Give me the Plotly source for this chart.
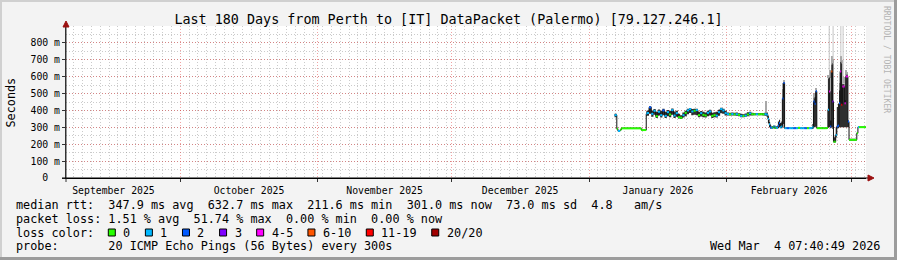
import plotly.graph_objects as go

# ---------------- data ----------------
times = [
    "2026-01-06 18:00", "2026-01-07 06:00", "2026-01-07 12:00", "2026-01-08 00:00",
    "2026-01-08 06:00", "2026-01-12 18:00", "2026-01-13 21:00",
    "2026-01-14 00:00", "2026-01-14 12:00", "2026-01-15 00:00", "2026-01-15 12:00",
    "2026-01-16 00:00", "2026-01-16 12:00", "2026-01-17 00:00", "2026-01-17 12:00",
    "2026-01-18 00:00", "2026-01-18 12:00", "2026-01-19 00:00", "2026-01-19 12:00",
    "2026-01-20 00:00", "2026-01-20 12:00", "2026-01-21 00:00", "2026-01-21 12:00",
    "2026-01-22 00:00", "2026-01-22 12:00", "2026-01-23 00:00", "2026-01-23 12:00",
    "2026-01-24 00:00", "2026-01-24 12:00", "2026-01-25 00:00", "2026-01-25 12:00",
    "2026-01-26 00:00", "2026-01-26 12:00", "2026-01-27 00:00", "2026-01-27 12:00",
    "2026-01-28 00:00", "2026-01-28 12:00", "2026-01-29 00:00", "2026-01-29 12:00",
    "2026-01-30 00:00", "2026-01-30 12:00", "2026-01-31 00:00", "2026-01-31 12:00",
    "2026-02-01 00:00", "2026-02-01 12:00", "2026-02-02 00:00", "2026-02-02 12:00",
    "2026-02-03 00:00", "2026-02-03 12:00", "2026-02-04 00:00", "2026-02-04 12:00",
    "2026-02-05 00:00", "2026-02-05 12:00", "2026-02-06 00:00", "2026-02-06 12:00",
    "2026-02-07 00:00", "2026-02-07 12:00", "2026-02-08 00:00", "2026-02-08 12:00",
    "2026-02-09 00:00", "2026-02-09 12:00",
    "2026-02-10 00:00", "2026-02-10 06:00", "2026-02-10 12:00", "2026-02-10 18:00",
    "2026-02-11 00:00", "2026-02-11 06:00", "2026-02-11 12:00", "2026-02-11 18:00",
    "2026-02-12 00:00", "2026-02-12 06:00", "2026-02-12 12:00", "2026-02-12 18:00",
    "2026-02-13 00:00", "2026-02-13 06:00", "2026-02-13 12:00", "2026-02-13 18:00",
    "2026-02-14 00:00", "2026-02-14 12:00", "2026-02-15 00:00", "2026-02-15 12:00",
    "2026-02-16 00:00", "2026-02-16 12:00", "2026-02-17 00:00", "2026-02-17 12:00",
    "2026-02-18 00:00", "2026-02-18 12:00", "2026-02-19 00:00", "2026-02-19 12:00",
    "2026-02-20 00:00", "2026-02-20 06:00", "2026-02-20 12:00", "2026-02-20 18:00",
    "2026-02-21 00:00", "2026-02-21 06:00", "2026-02-22 00:00", "2026-02-22 12:00",
    "2026-02-23 00:00", "2026-02-23 12:00", "2026-02-23 18:00", "2026-02-24 00:00",
    "2026-02-24 06:00", "2026-02-24 12:00", "2026-02-24 18:00", "2026-02-25 00:00",
    "2026-02-25 06:00", "2026-02-25 12:00", "2026-02-25 18:00", "2026-02-26 00:00",
    "2026-02-26 06:00", "2026-02-26 12:00", "2026-02-26 18:00", "2026-02-27 00:00",
    "2026-02-27 06:00", "2026-02-27 12:00", "2026-02-27 18:00", "2026-02-28 00:00",
    "2026-02-28 06:00", "2026-02-28 12:00", "2026-03-02 06:00", "2026-03-02 12:00",
    "2026-03-02 18:00", "2026-03-04 07:00",
]

median_ms = [
    372, 292, 279, 285, 294, 284, 380,
    385, 418, 380, 398, 366, 392, 372, 400, 368, 390, 376, 402, 370, 384,
    360, 357, 372, 386, 400, 408, 394, 398, 402, 372, 384, 374, 370, 386,
    394, 368, 372, 369, 390, 408, 400, 384, 378, 377, 379, 377, 378, 374,
    368, 367, 370, 376, 383, 378, 377, 378, 377, 378, 377, 378,
    375, 350, 318, 300, 296, 300, 305, 296, 300, 296, 310, 325,
    300, 305, 470, 562, 295, 295, 295, 295, 295, 295, 297, 295,
    295, 295, 295, 295, 295, 300, 453, 440, 513, 295, 295, 295,
    295, 296, 404, 512, 305, 631, 453, 215, 215, 255, 305, 310,
    443, 631, 433, 542, 542, 443, 601, 601, 334, 226, 265, 301,
    301, 301,
]

loss_cnt = [
    1, 0, 1, 0, 0, 0, 1,
    1, 2, 1, 1, 0, 1, 1, 2, 1, 1, 0, 1, 1, 1,
    0, 0, 1, 0, 1, 1, 1, 0, 1, 0, 1, 0, 0, 1,
    1, 0, 0, 1, 1, 1, 1, 1, 1, 0, 1, 0, 1, 0,
    1, 0, 1, 0, 1, 0, 0, 1, 0, 0, 0, 1,
    1, 1, 1, 2, 1, 0, 1, 0, 1, 1, 2, 2,
    1, 1, 2, 2, 1, 2, 1, 1, 2, 1, 0, 1,
    1, 2, 0, 1, 1, 1, 2, 2, 2, 0, 0, 0,
    0, 0, 1, 4, 2, 6, 3, 0, 0, 1, 2, 2,
    2, 4, 12, 4, 4, 4, 4, 4, 2, 0, 0, 1,
    0, 0,
]

smoke_lo = [
    360, 286, 276, 282, 292, 282, 365,
    368, 380, 362, 375, 355, 370, 358, 372, 356, 366, 360, 374, 356, 362,
    352, 350, 358, 366, 378, 385, 372, 374, 372, 360, 364, 360, 358, 366,
    370, 356, 360, 358, 368, 384, 380, 370, 370, 370, 370, 370, 368, 365,
    360, 360, 362, 366, 370, 370, 371, 371, 371, 371, 370, 368,
    362, 325, 300, 292, 292, 293, 295, 292, 293, 292, 295, 300,
    294, 295, 300, 320, 293, 293, 293, 293, 293, 293, 294, 293,
    293, 293, 293, 293, 293, 290, 300, 300, 305, 293, 293, 293,
    293, 293, 300, 300, 295, 300, 290, 210, 210, 240, 295, 295,
    300, 300, 300, 300, 300, 300, 300, 300, 300, 222, 260, 298,
    298, 298,
]

smoke_hi = [
    380, 298, 284, 290, 297, 287, 395,
    400, 425, 400, 408, 392, 405, 398, 410, 392, 402, 396, 412, 394, 398,
    380, 372, 388, 398, 410, 415, 408, 410, 410, 392, 396, 392, 388, 398,
    404, 386, 390, 392, 404, 416, 410, 398, 388, 386, 388, 386, 388, 384,
    380, 378, 382, 390, 392, 386, 384, 385, 384, 385, 384, 388,
    388, 365, 332, 312, 305, 308, 312, 305, 308, 304, 335, 345,
    325, 335, 530, 568, 298, 298, 298, 298, 298, 298, 300, 298,
    298, 298, 298, 298, 298, 320, 470, 480, 520, 298, 298, 298,
    298, 300, 590, 595, 340, 670, 680, 245, 240, 300, 420, 440,
    520, 690, 680, 555, 560, 460, 612, 612, 340, 232, 270, 304,
    304, 304,
]

# lighter tips of the smoke above the dark band
tip_times = [
    "2026-02-09 18:00", "2026-02-13 12:00", "2026-02-13 18:00", "2026-02-20 12:00",
    "2026-02-20 18:00", "2026-02-21 00:00", "2026-02-23 18:00", "2026-02-24 00:00",
    "2026-02-24 12:00", "2026-02-24 18:00", "2026-02-26 06:00", "2026-02-26 12:00",
    "2026-02-26 18:00", "2026-02-27 06:00", "2026-02-27 18:00", "2026-02-28 00:00",
]
tip_lo = [388, 530, 568, 470, 480, 520, 590, 595, 670, 680, 520, 690, 680, 560, 612, 612]
tip_hi = [455, 565, 580, 495, 505, 535, 612, 640, 720, 705, 560, 720, 700, 600, 640, 630]

# single extreme pings reaching the top of the graph
peak_times = ["2026-02-24 01:00", "2026-02-24 22:00", "2026-02-26 16:00", "2026-02-27 04:00"]
peak_lo = [640, 705, 720, 600]
peak_hi = [900, 900, 900, 900]

loss_labels = ["0", "1", "2", "3", "4-5", "6-10", "11-19", "20/20"]
loss_colors = ["#26ff00", "#00b8ff", "#0059ff", "#7e00ff", "#ff00ff", "#ff5500", "#ff0000", "#a10000"]

y_ticks = [0, 100, 200, 300, 400, 500, 600, 700, 800]
y_ticktext = ["0\u00a0\u00a0", "100 m", "200 m", "300 m", "400 m", "500 m", "600 m", "700 m", "800 m"]

title_text = "Last 180 Days from Perth to [IT] DataPacket (Palermo) [79.127.246.1]"
rtt_line = "median rtt:  347.9 ms avg  632.7 ms max  211.6 ms min  301.0 ms now  73.0 ms sd  4.8   am/s"
loss_line = "packet loss: 1.51 % avg  51.74 % max  0.00 % min  0.00 % now"
probe_line = "probe:       20 ICMP Echo Pings (56 Bytes) every 300s"
stamp_text = "Wed Mar  4 07:40:49 2026"

x_start = "2025-09-05 07:40:49"
x_end = "2026-03-04 07:40:49"

# ---------------- helpers ----------------
MONO = "DejaVu Sans Mono"
L, R, T, B = 66, 866, 26, 178


def fx(px):
    return (px - L) / (R - L)


def fy(py):
    return (B - py) / (B - T)


def nb(s):
    return s.replace(" ", "\u00a0")


def bucket(n):
    if n <= 3:
        return n
    if n <= 5:
        return 4
    if n <= 10:
        return 5
    if n <= 19:
        return 6
    return 7


fig = go.Figure()

# tips of smoke (bars drawn first)
fig.add_trace(go.Bar(
    x=tip_times, y=[h - l for l, h in zip(tip_lo, tip_hi)], base=tip_lo,
    width=6 * 3600 * 1000, offset=0,
    marker=dict(color="#a8a8a8", line=dict(width=0)), hoverinfo="skip"))

# dark smoke band
fig.add_trace(go.Scatter(x=times, y=smoke_lo, mode="lines",
                         line=dict(width=0, shape="hv"), hoverinfo="skip"))
fig.add_trace(go.Scatter(x=times, y=smoke_hi, mode="lines",
                         line=dict(width=0, shape="hv"), fill="tonexty",
                         fillcolor="#2e2e2e", hoverinfo="skip"))

# extreme peaks
px_, py_ = [], []
for t, lo, hi in zip(peak_times, peak_lo, peak_hi):
    px_ += [t, t, None]
    py_ += [lo, hi, None]
fig.add_trace(go.Scatter(x=px_, y=py_, mode="lines",
                         line=dict(width=1, color="#c4c4c4"), hoverinfo="skip"))

# median connecting line
fig.add_trace(go.Scatter(x=times, y=median_ms, mode="lines",
                         line=dict(width=1, color="#111111", shape="hv"), hoverinfo="skip"))

# median coloured by packet loss
segs = {i: ([], []) for i in range(len(loss_colors))}
for i in range(len(times) - 1):
    b = bucket(loss_cnt[i])
    segs[b][0].extend([times[i], times[i + 1], None])
    segs[b][1].extend([median_ms[i], median_ms[i], None])
for b, (sx, sy) in segs.items():
    if sx:
        fig.add_trace(go.Scatter(x=sx, y=sy, mode="lines",
                                 line=dict(width=2, color=loss_colors[b]), hoverinfo="skip"))

GRID = "rgba(130,130,130,0.42)"
MGRID = "rgba(222,48,48,0.45)"

fig.update_layout(
    width=897, height=260,
    margin=dict(l=L, r=897 - R, t=T, b=260 - B),
    paper_bgcolor="#f3f3f3", plot_bgcolor="#ffffff",
    showlegend=False, bargap=0,
    font=dict(family=MONO, size=9.8, color="#000"),
    title=dict(text=title_text, x=0.5, xref="container", xanchor="center",
               y=1 - 19.5 / 260, yref="container", yanchor="middle",
               font=dict(family=MONO, size=13.4, color="#000")),
    xaxis=dict(
        type="date", range=[x_start, x_end], dtick="M1", tick0="2025-10-01",
        ticklabelmode="period", tickformat="%B %Y",
        showgrid=True, gridcolor=MGRID, griddash="1px,2px", gridwidth=1,
        ticks="outside", ticklen=3, tickcolor="#333",
        showline=True, linecolor="#000", linewidth=1, zeroline=False,
        tickfont=dict(family=MONO, size=9.8, color="#000"),
        minor=dict(dtick=2 * 86400000, tick0="2025-10-01", showgrid=True,
                   gridcolor=GRID, griddash="1px,2px", gridwidth=1, ticks=""),
        fixedrange=True,
    ),
    yaxis=dict(
        range=[0, 900], tickmode="array", tickvals=y_ticks, ticktext=y_ticktext,
        showgrid=True, gridcolor=MGRID, griddash="1px,2px", gridwidth=1,
        ticks="outside", ticklen=3, tickcolor="#333",
        showline=True, linecolor="#333", linewidth=1, zeroline=False,
        tickfont=dict(family=MONO, size=9.8, color="#000"),
        minor=dict(tickmode="linear", tick0=0, dtick=50, showgrid=True,
                   gridcolor=GRID, griddash="1px,2px", gridwidth=1, ticks=""),
        fixedrange=True,
    ),
)

ann = []


def text(px, py, s, size=11.8, anchor="left", color="#000", angle=0):
    ann.append(dict(x=fx(px), y=fy(py), xref="paper", yref="paper", text=nb(s),
                    showarrow=False, xanchor=anchor, yanchor="middle", textangle=angle,
                    borderpad=0, font=dict(family=MONO, size=size, color=color)))


text(15, 204.6, rtt_line)
text(15, 218.6, loss_line)
text(15, 232.6, "loss color:")
text(15, 246.4, probe_line)
text(881, 246.4, stamp_text, anchor="right")
text(10.5, 102, "Seconds", angle=-90, anchor="center")
text(887, 59, "RRDTOOL / TOBI OETIKER", size=8.1, anchor="center", color="#b4b4b4", angle=90)

shapes = []
bx = 108.3
for lab, col in zip(loss_labels, loss_colors):
    shapes.append(dict(type="rect", xref="paper", yref="paper",
                       x0=fx(bx), x1=fx(bx + 7), y0=fy(236), y1=fy(229),
                       fillcolor=col, line=dict(color="#000", width=1)))
    text(bx + 14, 232.6, lab)
    bx = bx + 15 + 7.09 * len(lab) + 15

# frame (3d border)
shapes += [
    dict(type="rect", xref="paper", yref="paper", x0=fx(0), x1=fx(897), y0=fy(0), y1=fy(2),
         fillcolor="#d0d0d0", line=dict(width=0), layer="below"),
    dict(type="rect", xref="paper", yref="paper", x0=fx(0), x1=fx(2), y0=fy(0), y1=fy(260),
         fillcolor="#d0d0d0", line=dict(width=0), layer="below"),
    dict(type="rect", xref="paper", yref="paper", x0=fx(894), x1=fx(897), y0=fy(0), y1=fy(260),
         fillcolor="#9c9c9c", line=dict(width=0), layer="below"),
    dict(type="rect", xref="paper", yref="paper", x0=fx(0), x1=fx(897), y0=fy(257), y1=fy(260),
         fillcolor="#9c9c9c", line=dict(width=0), layer="below"),
]
# axis extensions and arrows
shapes += [
    dict(type="line", xref="paper", yref="paper", x0=fx(66), x1=fx(66), y0=fy(182), y1=fy(26),
         line=dict(color="#333", width=1)),
    dict(type="line", xref="paper", yref="paper", x0=fx(62), x1=fx(868), y0=fy(178), y1=fy(178),
         line=dict(color="#000", width=1)),
    dict(type="path", xref="paper", yref="paper",
         path=f"M {fx(63)} {fy(27)} L {fx(69)} {fy(27)} L {fx(66)} {fy(21)} Z",
         fillcolor="#9b1010", line=dict(color="#9b1010", width=1)),
    dict(type="path", xref="paper", yref="paper",
         path=f"M {fx(868)} {fy(175)} L {fx(868)} {fy(181)} L {fx(874)} {fy(178)} Z",
         fillcolor="#9b1010", line=dict(color="#9b1010", width=1)),
]

fig.update_layout(annotations=ann, shapes=shapes)

fig.write_html("out.html")
